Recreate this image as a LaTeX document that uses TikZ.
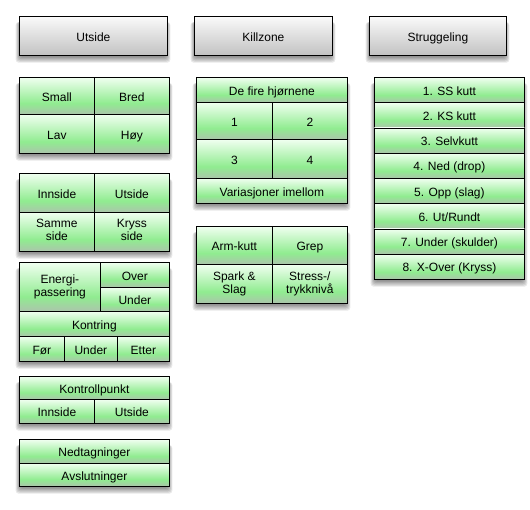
\documentclass[tikz,border=0pt]{standalone}
\usepackage{fontspec}
\setmainfont{Liberation Sans}
\definecolor{gtop}{RGB}{240,255,240}
\definecolor{gmid}{RGB}{144,236,144}
\definecolor{gbot}{RGB}{172,196,172}
\definecolor{htop}{RGB}{250,250,250}
\definecolor{hbot}{RGB}{194,194,194}
\pgfdeclareverticalshading{cellshade}{100bp}{color(0bp)=(gbot); color(25bp)=(gbot); color(40bp)=(gmid); color(75bp)=(gtop); color(100bp)=(gtop)}
\pgfdeclareverticalshading{headshade}{100bp}{color(0bp)=(hbot); color(25bp)=(hbot); color(75bp)=(htop); color(100bp)=(htop)}
\newcommand\toprule{\rule{0pt}{13.5pt}}
\newcommand\botrule{\rule[-3.3pt]{0pt}{3.3pt}}
\tikzset{
  cellbox/.style={draw=black, line width=0.8pt, shading=cellshade, inner sep=1pt,
    align=center, font=\fontsize{12}{13}\selectfont, text=black,
    execute at begin node=\toprule, execute at end node=\botrule},
  headbox/.style={draw=black, line width=0.8pt, shading=headshade, inner sep=1pt,
    align=center, font=\fontsize{12}{13}\selectfont, text=black,
    execute at begin node=\toprule, execute at end node=\botrule},
}
\newcommand\mycell[6]{\node[cellbox, anchor=north west, minimum width=#4pt, minimum height=#5pt] (#1) at (#2,#3) {#6};}
\newcommand\myhead[6]{\node[headbox, anchor=north west, minimum width=#4pt, minimum height=#5pt] (#1) at (#2,#3) {#6};}
\newcommand\blockshadow[4]{%
  \foreach \i in {1,...,6}{%
    \fill[black, opacity=0.09, rounded corners=3pt] ({#1+1.5-\i*0.8},{#2+6}) rectangle ({#3-1.5+\i*0.8},{#4+0.5+\i*1.2});
  }}
\begin{document}
\begin{tikzpicture}[x=1pt, y=-1pt]
\useasboundingbox (0,0) rectangle (530,509);
\fill[white] (0,0) rectangle (530,509);

% shadows
\blockshadow{19}{16}{167}{55}
\blockshadow{194}{16}{332}{55}
\blockshadow{369}{16}{506}{55}
\blockshadow{19}{77}{169}{153}
\blockshadow{19}{173}{169}{251}
\blockshadow{19}{262}{169}{361}
\blockshadow{19}{376}{169}{423}
\blockshadow{19}{439}{169}{486}
\blockshadow{196}{77}{347}{203}
\blockshadow{196}{226}{347}{303}
\blockshadow{374}{77}{524}{279}

% headers
\myhead{hU}{19}{16}{148}{39}{Utside}
\myhead{hK}{194}{16}{138}{39}{Killzone}
\myhead{hS}{369}{16}{137}{39}{Struggeling}

% block A
\mycell{small}{19}{77}{75}{37}{Small}
\mycell{bred}{94}{77}{75}{37}{Bred}
\mycell{lav}{19}{114}{75}{39}{Lav}
\mycell{hoy}{94}{114}{75}{39}{Høy}

% block B
\mycell{inn}{19}{173}{75}{39}{Innside}
\mycell{uts}{94}{173}{75}{39}{Utside}
\mycell{samme}{19}{212}{75}{39}{Samme\\side}
\mycell{kryss}{94}{212}{75}{39}{Kryss\\side}

% block C
\mycell{energi}{19}{262}{81}{49}{Energi-\\passering}
\mycell{over}{100}{262}{69}{25}{Over}
\mycell{underA}{100}{287}{69}{24}{Under}
\mycell{kontring}{19}{311}{150}{25}{Kontring}
\mycell{foer}{19}{336}{45}{25}{Før}
\mycell{underB}{64}{336}{53}{25}{Under}
\mycell{etter}{117}{336}{52}{25}{Etter}

% block D
\mycell{kpunkt}{19}{376}{150}{23}{Kontrollpunkt}
\mycell{kinn}{19}{399}{75}{24}{Innside}
\mycell{kut}{94}{399}{75}{24}{Utside}

% block E
\mycell{ned}{19}{439}{150}{24}{Nedtagninger}
\mycell{avs}{19}{463}{150}{23}{Avslutninger}

% block F
\mycell{fire}{196}{77}{151}{25}{De fire hjørnene}
\mycell{c1}{196}{102}{76}{37}{1}
\mycell{c2}{272}{102}{75}{37}{2}
\mycell{c3}{196}{139}{76}{39}{3}
\mycell{c4}{272}{139}{75}{39}{4}
\mycell{var}{196}{178}{151}{25}{Variasjoner imellom}

% block G
\mycell{arm}{196}{226}{76}{38}{Arm-kutt}
\mycell{grep}{272}{226}{75}{38}{Grep}
\mycell{spark}{196}{264}{76}{39}{Spark \&\\Slag}
\mycell{stress}{272}{264}{75}{39}{Stress-/\\trykknivå}

% block H
\mycell{s1}{374}{77}{150}{25.25}{1. SS kutt}
\mycell{s2}{374}{102.25}{150}{25.25}{2. KS kutt}
\mycell{s3}{374}{127.5}{150}{25.25}{3. Selvkutt}
\mycell{s4}{374}{152.75}{150}{25.25}{4. Ned (drop)}
\mycell{s5}{374}{178}{150}{25.25}{5. Opp (slag)}
\mycell{s6}{374}{203.25}{150}{25.25}{6. Ut/Rundt}
\mycell{s7}{374}{228.5}{150}{25.25}{7. Under (skulder)}
\mycell{s8}{374}{253.75}{150}{25.25}{8. X-Over (Kryss)}
\end{tikzpicture}
\end{document}
